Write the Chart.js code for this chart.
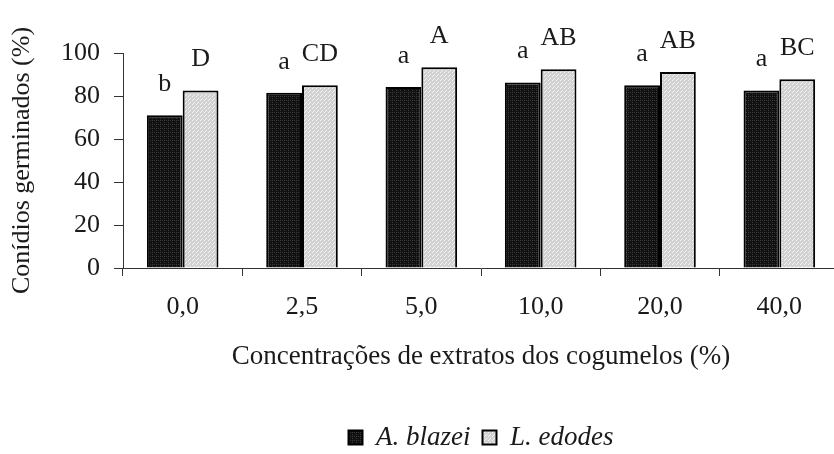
<!DOCTYPE html>
<html>
<head>
<meta charset="utf-8">
<script src="https://cdn.jsdelivr.net/npm/chart.js@4/dist/chart.umd.min.js"></script>
<style>
  html, body { margin: 0; padding: 0; background: #fff; overflow: hidden; }
  #wrap { position: relative; width: 842px; height: 461px; }
</style>
</head>
<body>
<div id="wrap"><canvas id="chart"></canvas></div>
<script>
// Germinated conidia (%) by mushroom extract concentration
const categories = ['0,0', '2,5', '5,0', '10,0', '20,0', '40,0'];
const blazeiValues = [71, 81.5, 84.2, 86.3, 85, 82.6];
const edodesValues = [82.6, 85, 93.4, 92.4, 91.2, 87.8];
const blazeiLetters = ['b', 'a', 'a', 'a', 'a', 'a'];
const edodesLetters = ['D', 'CD', 'A', 'AB', 'AB', 'BC'];
const yTicks = [0, 20, 40, 60, 80, 100];

const SERIF = '"Liberation Serif", "Times New Roman", serif';
const TEXT = '#1a1a1a';

// Dotted fills for the two series
function makePattern(base, dot, cells) {
  const c = document.createElement('canvas');
  c.width = 4; c.height = 4;
  const g = c.getContext('2d');
  g.fillStyle = base;
  g.fillRect(0, 0, 4, 4);
  g.fillStyle = dot;
  cells.forEach(([x, y]) => g.fillRect(x, y, 1, 1));
  return g.createPattern(c, 'repeat');
}
const ctx = document.getElementById('chart').getContext('2d');
const darkFill = makePattern('#111111', '#3a3a3a', [[0, 0], [2, 0], [0, 2]]);
const lightFill = makePattern('#d2d2d2', '#f2f2f2', [[0, 0], [2, 2], [1, 3]]);

// Significance letters above each bar
const letterPlugin = {
  id: 'letters',
  afterDatasetsDraw(chart) {
    const c = chart.ctx;
    c.save();
    c.font = '26px ' + SERIF;
    c.fillStyle = TEXT;
    c.textAlign = 'center';
    c.textBaseline = 'middle';
    [blazeiLetters, edodesLetters].forEach((letters, di) => {
      chart.getDatasetMeta(di).data.forEach((bar, i) => {
        c.fillText(letters[i], bar.x, bar.y - 31);
      });
    });
    c.restore();
  }
};

new Chart(ctx, {
  type: 'bar',
  data: {
    labels: categories,
    datasets: [
      {
        label: 'A. blazei',
        data: blazeiValues,
        backgroundColor: darkFill,
        borderColor: '#000',
        borderWidth: 2,
        categoryPercentage: 0.6,
        barPercentage: 1.0
      },
      {
        label: 'L. edodes',
        data: edodesValues,
        backgroundColor: lightFill,
        borderColor: '#000',
        borderWidth: 2,
        categoryPercentage: 0.6,
        barPercentage: 1.0
      }
    ]
  },
  options: {
    responsive: true,
    maintainAspectRatio: false,
    animation: false,
    layout: { padding: { top: 53, right: 3, left: 0, bottom: 0 } },
    plugins: {
      tooltip: { enabled: false },
      legend: {
        position: 'bottom',
        fullSize: false,
        labels: {
          color: TEXT,
          font: { family: SERIF, size: 27, style: 'italic' },
          boxWidth: 14,
          boxHeight: 14,
          padding: 12
        }
      }
    },
    scales: {
      x: {
        grid: { display: true, drawOnChartArea: false, tickLength: 8, color: '#333', offset: true },
        border: { display: true, color: '#333', width: 1 },
        ticks: { color: TEXT, font: { family: SERIF, size: 26 }, padding: 16 },
        title: {
          display: true,
          text: 'Concentrações de extratos dos cogumelos (%)',
          color: TEXT,
          font: { family: SERIF, size: 27 },
          padding: { top: 1.6, bottom: 38.8 }
        }
      },
      y: {
        min: 0,
        max: 100,
        afterBuildTicks(scale) { scale.ticks = yTicks.map(v => ({ value: v })); },
        afterFit(scale) { scale.width = 123; },
        grid: { display: true, drawOnChartArea: false, tickLength: 9, color: '#333' },
        border: { display: true, color: '#333', width: 1 },
        ticks: { color: TEXT, font: { family: SERIF, size: 26 }, padding: 14 },
        title: {
          display: true,
          text: 'Conídios germinados (%)',
          color: TEXT,
          font: { family: SERIF, size: 26 },
          padding: { top: 7, bottom: 0 }
        }
      }
    }
  },
  plugins: [letterPlugin]
});
</script>
</body>
</html>
